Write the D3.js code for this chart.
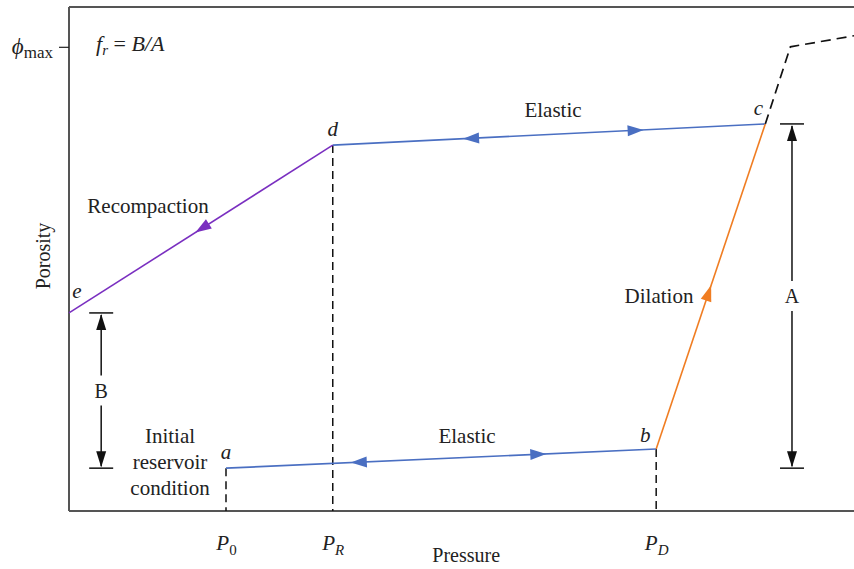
<!DOCTYPE html>
<html>
<head>
<meta charset="utf-8">
<script src="https://cdn.jsdelivr.net/npm/d3@7"></script>
<style>
  body { margin: 0; background: #fff; }
  text { font-family: "Liberation Serif", "DejaVu Serif", serif; fill: #222; }
</style>
</head>
<body>
<div id="chart"></div>
<script>
// pressure / porosity values in arbitrary units
var pressureTicks = [
  { main: "P", sub: "0", v: 20 },
  { main: "P", sub: "R", v: 33.6 },
  { main: "P", sub: "D", v: 74.8 }
];
var phiMax = 92.1;
var points = { a: [20, 8.5], b: [74.8, 12.3], c: [88.7, 76.8], d: [33.6, 72.6], e: [0, 39.3] };
var extension = [[88.7, 76.8], [91.9, 92.1], [100, 94.3]];
// arrow tips: [pressure, from point, to point]
var arrows = [
  [35.9, "b", "a"], [60.8, "a", "b"],
  [50.2, "c", "d"], [73.2, "d", "c"],
  [16.1, "d", "e"], [81.8, "b", "c"]
];
var dimA = { x: 92.1, y0: 8.5, y1: 76.8, label: "A" };
var dimB = { x: 4.1, y0: 8.5, y1: 39.3, label: "B" };

var blue = "#4a6fc2", purple = "#7a2fc0", orange = "#f07d22", frame = "#555";

var margin = { top: 7, right: 0, bottom: 58, left: 69 },
  width = 854 - margin.left - margin.right,
  height = 569 - margin.top - margin.bottom;

var svg = d3.select("#chart")
  .append("svg")
  .attr("width", 854)
  .attr("height", 569)
  .append("g")
  .attr("transform", "translate(" + margin.left + "," + margin.top + ")");

var x = d3.scaleLinear().domain([0, 100]).range([0, width]);
var y = d3.scaleLinear().domain([0, 100]).range([height, 0]);

// frame
svg.append("line").attr("x1", 0).attr("x2", width).attr("y1", 0).attr("y2", 0)
  .attr("stroke", frame).attr("stroke-width", 2);

var xAxis = svg.append("g")
  .attr("transform", "translate(0," + height + ")")
  .call(d3.axisBottom(x).tickValues(pressureTicks.map(function (d) { return d.v; }))
    .tickSize(0).tickPadding(24).tickFormat(""));
xAxis.select(".domain").attr("stroke", frame).attr("stroke-width", 2).attr("d", "M0,0H" + width);
xAxis.selectAll(".tick text").data(pressureTicks).each(function (d) {
  var t = d3.select(this).attr("font-size", 21).attr("fill", "#222");
  t.append("tspan").text(d.main).style("font-style", "italic");
  t.append("tspan").text(d.sub).attr("font-size", 15).attr("dy", 5)
    .style("font-style", d.sub === "0" ? "normal" : "italic");
});

var yAxis = svg.append("g")
  .call(d3.axisLeft(y).tickValues([phiMax]).tickSize(10).tickPadding(6).tickFormat(""));
yAxis.select(".domain").attr("stroke", frame).attr("stroke-width", 2).attr("d", "M0," + height + "V0");
yAxis.selectAll(".tick line").attr("stroke", "#222").attr("stroke-width", 1.2);
yAxis.selectAll(".tick text").each(function () {
  var t = d3.select(this).attr("font-size", 23).attr("fill", "#222").attr("dy", "0.3em");
  t.append("tspan").text("\u03d5").style("font-style", "italic");
  t.append("tspan").text("max").attr("font-size", 17).attr("dy", 4);
});

svg.append("text").text("Pressure").attr("x", x(50.6)).attr("y", height + 51)
  .attr("text-anchor", "middle").attr("font-size", 20);
svg.append("text").text("Porosity")
  .attr("transform", "translate(-19," + (height / 2 - 3) + ") rotate(-90)")
  .attr("text-anchor", "middle").attr("font-size", 20);

var fr = svg.append("text").attr("x", 27).attr("y", 44).attr("font-size", 22);
fr.append("tspan").text("f").style("font-style", "italic");
fr.append("tspan").text("r").attr("font-size", 15).attr("dy", 4).style("font-style", "italic");
fr.append("tspan").text(" = ").attr("dy", -4);
fr.append("tspan").text("B/A").style("font-style", "italic");

// dashed guide lines
var guides = [points.a, points.d, points.b];
guides.forEach(function (g) {
  svg.append("line")
    .attr("x1", x(g[0])).attr("x2", x(g[0]))
    .attr("y1", y(g[1])).attr("y2", y(0))
    .attr("stroke", "#111").attr("stroke-width", 1.5).attr("stroke-dasharray", "8,5");
});

var line = d3.line().x(function (d) { return x(d[0]); }).y(function (d) { return y(d[1]); });

svg.append("path").datum(extension).attr("d", line).attr("fill", "none")
  .attr("stroke", "#111").attr("stroke-width", 1.7).attr("stroke-dasharray", "10,6");

var segs = [["a", "b", blue], ["d", "c", blue], ["e", "d", purple], ["b", "c", orange]];
segs.forEach(function (s) {
  svg.append("path").datum([points[s[0]], points[s[1]]]).attr("d", line)
    .attr("fill", "none").attr("stroke", s[2]).attr("stroke-width", 1.6);
});

function segColor(p, q) {
  var k = [p, q].sort().join("");
  return k === "ab" || k === "cd" ? blue : (k === "de" ? purple : orange);
}

arrows.forEach(function (ar) {
  var p = points[ar[1]], q = points[ar[2]];
  var t = (ar[0] - p[0]) / (q[0] - p[0]);
  var tipX = x(ar[0]), tipY = y(p[1] + t * (q[1] - p[1]));
  var dx = x(q[0]) - x(p[0]), dy = y(q[1]) - y(p[1]);
  var len = Math.sqrt(dx * dx + dy * dy);
  var ux = dx / len, uy = dy / len;
  var L = 16, W = 5.5;
  var bx = tipX - ux * L, by = tipY - uy * L;
  svg.append("path")
    .attr("d", "M" + tipX + "," + tipY + "L" + (bx - uy * W) + "," + (by + ux * W) +
      "L" + (bx + uy * W) + "," + (by - ux * W) + "Z")
    .attr("fill", segColor(ar[1], ar[2]));
});

// dimension markers
function dimension(dm) {
  var cx = x(dm.x), top = y(dm.y1), bot = y(dm.y0), mid = (top + bot) / 2;
  var g = svg.append("g");
  [top, bot].forEach(function (yy) {
    g.append("line").attr("x1", cx - 12).attr("x2", cx + 12).attr("y1", yy).attr("y2", yy)
      .attr("stroke", "#111").attr("stroke-width", 1.5);
  });
  g.append("line").attr("x1", cx).attr("x2", cx).attr("y1", top + 2).attr("y2", mid - 15)
    .attr("stroke", "#111").attr("stroke-width", 1.5);
  g.append("line").attr("x1", cx).attr("x2", cx).attr("y1", mid + 15).attr("y2", bot - 2)
    .attr("stroke", "#111").attr("stroke-width", 1.5);
  g.append("path").attr("d", "M" + cx + "," + (top + 1) + "l-5,16h10z").attr("fill", "#111");
  g.append("path").attr("d", "M" + cx + "," + (bot - 1) + "l-5,-16h10z").attr("fill", "#111");
  g.append("text").text(dm.label).attr("x", cx).attr("y", mid + 7)
    .attr("text-anchor", "middle").attr("font-size", 20);
}
dimension(dimA);
dimension(dimB);

// point letters
var letters = [["a", 0, -9], ["b", -11, -7], ["c", -7, -9], ["d", 0, -9], ["e", 8, -15]];
letters.forEach(function (l) {
  svg.append("text").text(l[0]).attr("x", x(points[l[0]][0]) + l[1]).attr("y", y(points[l[0]][1]) + l[2])
    .attr("text-anchor", "middle").attr("font-size", 21).style("font-style", "italic");
});

// annotations
var notes = [
  ["Elastic", 553, 117], ["Elastic", 467, 443], ["Recompaction", 148, 213], ["Dilation", 659, 303]
];
notes.forEach(function (n) {
  svg.append("text").text(n[0]).attr("x", n[1] - margin.left).attr("y", n[2] - margin.top)
    .attr("text-anchor", "middle").attr("font-size", 21);
});
["Initial", "reservoir", "condition"].forEach(function (s, i) {
  svg.append("text").text(s).attr("x", 170 - margin.left).attr("y", 443 + i * 26 - margin.top)
    .attr("text-anchor", "middle").attr("font-size", 21);
});
</script>
</body>
</html>
